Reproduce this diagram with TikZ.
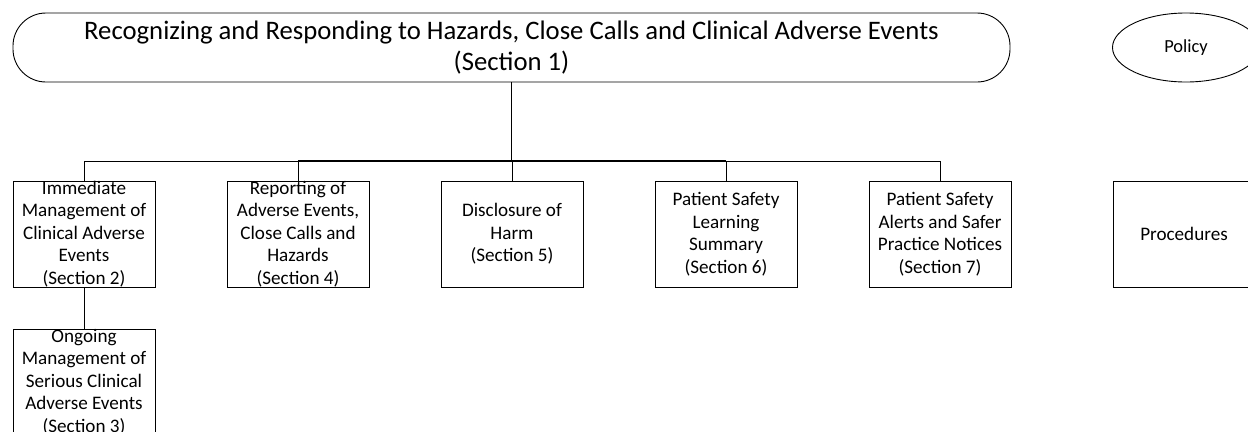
\documentclass[tikz,border=0pt]{standalone}
\usepackage{fontspec}
\setmainfont{Carlito}
\usetikzlibrary{shapes.geometric}
\tikzset{
  sbox/.style={draw, line width=0.9bp, minimum width=142bp, minimum height=106bp, inner sep=0pt, align=center, font=\fontsize{19.2}{22.6}\selectfont},
  conn/.style={line width=0.9bp},
  bold/.style={line width=1.7bp}
}
\begin{document}
\begin{tikzpicture}[x=1bp,y=-1bp]
\useasboundingbox (0,0) rectangle (1248,431);
\clip (0,0) rectangle (1248,431);
\node[draw, line width=0.9bp, rounded corners=33bp, minimum width=997bp, minimum height=69bp, inner sep=0pt, align=center, font=\fontsize{26.8}{31}\selectfont] (top) at (511.5,47.5) {Recognizing and Responding to Hazards, Close Calls and Clinical Adverse Events\\(Section 1)};
\node[draw, ellipse, line width=0.9bp, minimum width=147bp, minimum height=69bp, inner sep=0pt, font=\fontsize{18.5}{22.6}\selectfont] (policy) at (1186,47.5) {Policy};
\node[sbox] (b1) at (84,234) {Immediate\\Management of\\Clinical Adverse\\Events\\(Section 2)};
\node[sbox] (b2) at (298,234) {Reporting of\\Adverse Events,\\Close Calls and\\Hazards\\(Section 4)};
\node[sbox] (b3) at (512,234) {Disclosure of\\Harm\\(Section 5)};
\node[sbox] (b4) at (726,234) {Patient Safety\\Learning\\Summary\\(Section 6)};
\node[sbox] (b5) at (940,234) {Patient Safety\\Alerts and Safer\\Practice Notices\\(Section 7)};
\node[sbox] (proc) at (1184,234) {Procedures};
\node[sbox] (b6) at (84,382) {Ongoing\\Management of\\Serious Clinical\\Adverse Events\\(Section 3)};
\coordinate (bus) at (512,161);
\draw[bold] (top.south) -- (top.south |- bus);
\draw[conn] (b1.north) -- (b1.north |- bus) -- (b5.north |- bus) -- (b5.north);
\draw[bold] (b2.north |- bus) -- (b4.north |- bus);
\draw[conn] (b2.north) -- (b2.north |- bus);
\draw[conn] (b3.north) -- (b3.north |- bus);
\draw[conn] (b4.north) -- (b4.north |- bus);
\draw[conn] (b1.south) -- (b6.north);
\end{tikzpicture}
\end{document}
